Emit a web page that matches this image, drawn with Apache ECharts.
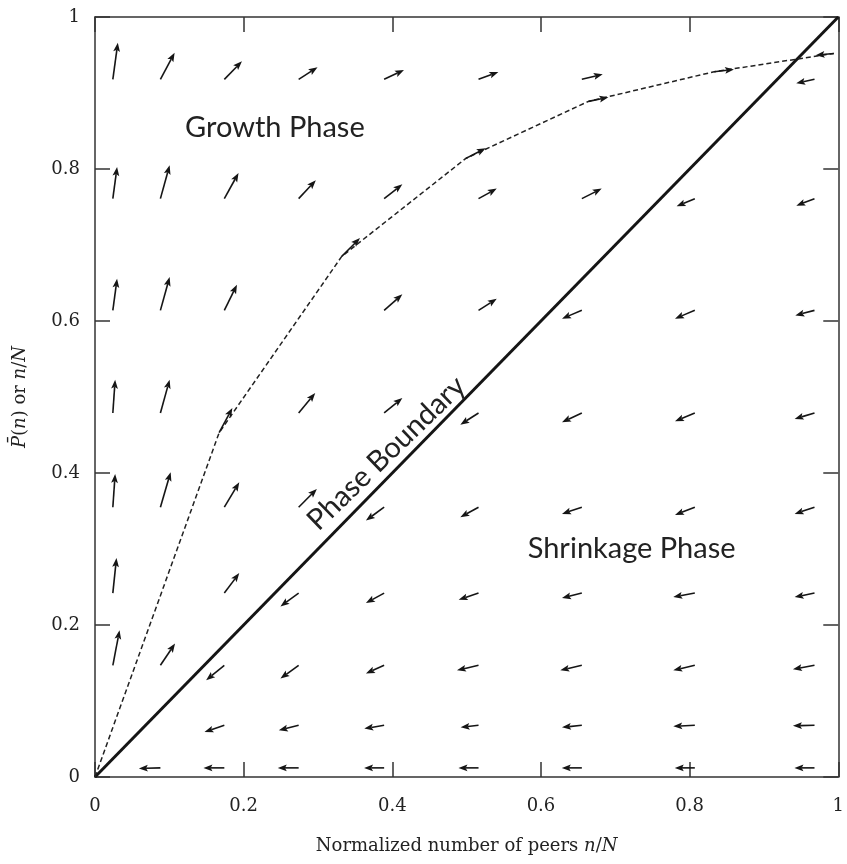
<!DOCTYPE html>
<html>
<head>
<meta charset="utf-8">
<script src="https://cdn.jsdelivr.net/npm/echarts@6/dist/echarts.min.js"></script>
<style>html,body{margin:0;padding:0;background:#fff;}#c{width:847px;height:864px;}</style>
</head>
<body>
<div id="c"></div>
<script>
// ---- data ----
const tickLabels = ['0', '0.2', '0.4', '0.6', '0.8', '1'];
// grid of vector-field arrow tails
const colX = [0.024, 0.088, 0.174, 0.274, 0.389, 0.516, 0.655, 0.807, 0.968];
const rowY = [0.918, 0.761, 0.614, 0.479, 0.355, 0.242, 0.147, 0.068, 0.012];
// arrow components (data units), null = no arrow drawn
const arrowU = [
  [0.0067, 0.0191, 0.0237, 0.0254, 0.0267, 0.0267, 0.0281, null, -0.0246],
  [0.0057, 0.0124, 0.0191, 0.0231, 0.0245, 0.0245, 0.0267, -0.0245, -0.0245],
  [0.0057, 0.0124, 0.0170, null, 0.0245, 0.0245, -0.0267, -0.0267, -0.0258],
  [0.0031, 0.0124, null, 0.0223, 0.0245, -0.0245, -0.0267, -0.0267, -0.0267],
  [0.0031, 0.0138, 0.0201, 0.0245, -0.0245, -0.0245, -0.0267, -0.0267, -0.0267],
  [0.0049, null, 0.0201, -0.0245, -0.0245, -0.0267, -0.0267, -0.0290, -0.0267],
  [0.0090, 0.0197, -0.0245, -0.0245, -0.0245, -0.0290, -0.0290, -0.0290, -0.0290],
  [null, null, -0.0267, -0.0267, -0.0267, -0.0241, -0.0267, -0.0290, -0.0290],
  [null, -0.0290, -0.0281, -0.0281, -0.0270, -0.0270, -0.0270, -0.0270, -0.0270]
];
const arrowV = [
  [0.0482, 0.0350, 0.0237, 0.0158, 0.0122, 0.0096, 0.0066, null, -0.0053],
  [0.0417, 0.0438, 0.0338, 0.0241, 0.0188, 0.0132, 0.0132, -0.0101, -0.0092],
  [0.0417, 0.0438, 0.0338, null, 0.0211, 0.0154, -0.0109, -0.0109, -0.0066],
  [0.0438, 0.0438, null, 0.0263, 0.0197, -0.0154, -0.0122, -0.0109, -0.0079],
  [0.0438, 0.0461, 0.0329, 0.0241, -0.0175, -0.0132, -0.0088, -0.0101, -0.0088],
  [0.0461, null, 0.0263, -0.0175, -0.0132, -0.0088, -0.0066, -0.0053, -0.0053],
  [0.0461, 0.0286, -0.0197, -0.0175, -0.0109, -0.0066, -0.0066, -0.0066, -0.0053],
  [null, null, -0.0088, -0.0066, -0.0043, -0.0026, -0.0026, -0.0013, -0.0007],
  [null, -0.0007, 0, 0, 0, 0, 0, 0, 0]
];
// dashed trajectory (kink points) and the arrow drawn at each kink
const trajX = [0, 0.167, 0.332, 0.499, 0.664, 0.833, 0.994];
const trajY = [0, 0.453, 0.685, 0.814, 0.889, 0.928, 0.952];
const trajU = [null, 0.0178, 0.0245, 0.0267, 0.0267, 0.0267, -0.0245];
const trajV = [null, 0.0325, 0.0241, 0.0132, 0.0053, 0.0030, -0.0022];
// phase boundary
const boundaryX = [0, 1];
const boundaryY = [0, 1];
// region annotations
const phaseText = ['Growth Phase', 'Shrinkage Phase', 'Phase Boundary'];
const phaseX = [0.242, 0.722, 0.392];
const phaseY = [0.854, 0.301, 0.426];

// ---- build series data ----
const fieldData = [];
rowY.forEach((y, r) => colX.forEach((x, c) => {
  if (arrowU[r][c] !== null) fieldData.push([x, y, arrowU[r][c], arrowV[r][c]]);
}));
const trajLine = trajX.map((x, i) => [x, trajY[i]]);
const trajArrows = [];
trajX.forEach((x, i) => { if (trajU[i] !== null) trajArrows.push([x, trajY[i], trajU[i], trajV[i]]); });
const boundaryLine = boundaryX.map((x, i) => [x, boundaryY[i]]);
const phaseData = phaseText.map((t, i) => [phaseX[i], phaseY[i], i]);

const INK = '#151515';
function renderArrow(params, api) {
  const x = api.value(0), y = api.value(1), u = api.value(2), v = api.value(3);
  const p0 = api.coord([x, y]);
  const p1 = api.coord([x + u, y + v]);
  const dx = p1[0] - p0[0], dy = p1[1] - p0[1];
  const L = Math.hypot(dx, dy) || 1;
  const ux = dx / L, uy = dy / L, nx = -uy, ny = ux;
  const hl = 9, hw = 3.4, ind = 1.8;
  const bx = p1[0] - ux * hl, by = p1[1] - uy * hl;
  const ix = bx + ux * ind, iy = by + uy * ind;
  return {
    type: 'group',
    children: [
      { type: 'line', shape: { x1: p0[0], y1: p0[1], x2: ix, y2: iy },
        style: { stroke: INK, lineWidth: 1.6 } },
      { type: 'polygon', shape: { points: [[p1[0], p1[1]], [bx + nx * hw, by + ny * hw], [ix, iy], [bx - nx * hw, by - ny * hw]] },
        style: { fill: INK } }
    ]
  };
}

const serif = 'DejaVu Serif';
const sans = 'Lato';
function renderPhase(params, api) {
  const p = api.coord([api.value(0), api.value(1)]);
  const idx = api.value(2);
  return {
    type: 'text', x: p[0], y: p[1],
    rotation: idx === 2 ? 44 * Math.PI / 180 : 0,
    style: { text: phaseText[idx], fontFamily: sans, fontSize: 29, fill: '#222', align: 'center', verticalAlign: 'middle' }
  };
}

const axisCol = '#333';
const labelStyle = { fontFamily: serif, fontSize: 18, color: '#222' };
const richName = {
  fontFamily: serif, fontSize: 18, color: '#222',
  rich: { i: { fontFamily: serif, fontSize: 18, fontStyle: 'italic', color: '#222' } }
};
const tickFmt = v => tickLabels[Math.round(v / 0.2)];

function mkAxis(pos, showLabel, extra) {
  return Object.assign({
    type: 'value', min: 0, max: 1, interval: 0.2, position: pos,
    axisLine: { show: true, onZero: false, lineStyle: { color: axisCol, width: 1.5 } },
    axisTick: { show: true, inside: true, length: 15, lineStyle: { color: axisCol, width: 1.5 } },
    axisLabel: Object.assign({ show: showLabel, formatter: tickFmt }, labelStyle),
    splitLine: { show: false }
  }, extra || {});
}

const chart = echarts.init(document.getElementById('c'), null, { renderer: 'canvas' });
chart.setOption({
  animation: false,
  backgroundColor: '#fff',
  grid: { left: 95, right: 5, top: 17, bottom: 87 },
  xAxis: [
    mkAxis('bottom', true, {
      name: 'Normalized number of peers {i|n}/{i|N}', nameLocation: 'middle', nameGap: 60,
      nameTextStyle: richName,
      axisLabel: Object.assign({ show: true, formatter: tickFmt, margin: 20 }, labelStyle)
    }),
    mkAxis('top', false)
  ],
  yAxis: [
    mkAxis('left', true, {
      name: '{i|P\u0304}({i|n}) or {i|n}/{i|N}', nameLocation: 'middle', nameGap: 66,
      nameTextStyle: richName,
      axisLabel: Object.assign({ show: true, formatter: tickFmt, margin: 15 }, labelStyle)
    }),
    mkAxis('right', false)
  ],
  series: [
    { type: 'line', data: boundaryLine, symbol: 'none', lineStyle: { color: INK, width: 3 }, z: 3 },
    { type: 'line', data: trajLine, symbol: 'none', lineStyle: { color: '#222', width: 1.5, type: [5, 3] }, z: 3 },
    { type: 'custom', data: fieldData, renderItem: renderArrow, encode: { x: 0, y: 1 }, z: 4 },
    { type: 'custom', data: trajArrows, renderItem: renderArrow, encode: { x: 0, y: 1 }, z: 4 },
    { type: 'custom', data: phaseData, renderItem: renderPhase, encode: { x: 0, y: 1 }, z: 5 }
  ]
});
</script>
</body>
</html>
